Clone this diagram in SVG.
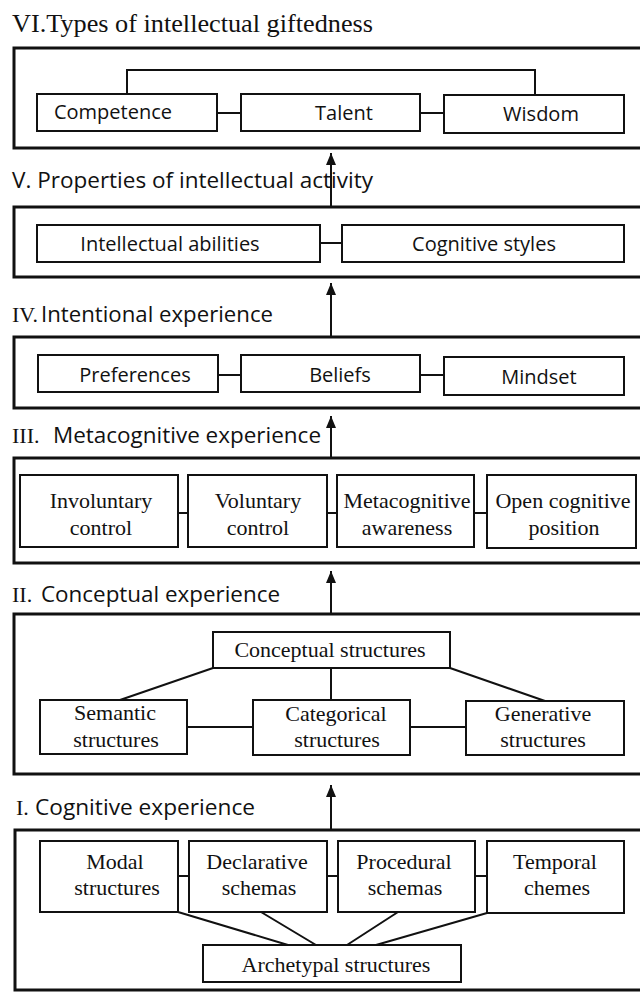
<svg xmlns="http://www.w3.org/2000/svg" width="640" height="992" viewBox="0 0 640 992">
<defs>
<style>
.outer{fill:none;stroke:#111;stroke-width:3}
.box{fill:#fff;stroke:#111;stroke-width:2}
.ln{fill:none;stroke:#111;stroke-width:2}
.ar{fill:none;stroke:#111;stroke-width:2;marker-end:url(#ah)}
.ser{font-family:"Liberation Serif","Times New Roman",serif;fill:#111}
.sans{font-family:"Open Sans","Noto Sans",sans-serif;fill:#111}
.t{font-size:22px}
.lbl{font-size:20px;text-anchor:middle}
.sl{font-size:22px;text-anchor:middle}
</style>
<marker id="ah" markerUnits="userSpaceOnUse" markerWidth="12" markerHeight="10" refX="12" refY="5" orient="auto" viewBox="0 0 12 10">
<path d="M0,0 L12,5 L0,10 Z" fill="#111"/>
</marker>
</defs>
<rect width="640" height="992" fill="#fff"/>

<g id="section-VI">
<text class="ser" x="12" y="32" font-size="26" textLength="361" lengthAdjust="spacingAndGlyphs">VI.Types of intellectual giftedness</text>
<rect class="outer" x="14" y="48" width="660" height="100"/>
</g>
<g id="competence"><rect class="box" x="37" y="94" width="180" height="37"/><text class="sans lbl" x="113" y="119">Competence</text></g>
<g id="talent"><rect class="box" x="241" y="94" width="179" height="37"/><text class="sans lbl" x="344" y="120">Talent</text></g>
<g id="wisdom"><rect class="box" x="444" y="95" width="180" height="38"/><text class="sans lbl" x="541" y="121">Wisdom</text></g>

<g id="section-V">
<text class="sans t" x="12" y="188" textLength="361" lengthAdjust="spacingAndGlyphs">V. Properties of intellectual activity</text>
<rect class="outer" x="14" y="207" width="660" height="70"/>
</g>
<g id="intellectual-abilities"><rect class="box" x="37" y="225" width="283" height="37"/><text class="sans lbl" x="170" y="251">Intellectual abilities</text></g>
<g id="cognitive-styles"><rect class="box" x="342" y="225" width="282" height="37"/><text class="sans lbl" x="484" y="251">Cognitive styles</text></g>

<g id="section-IV">
<text class="ser t" x="12" y="322">IV.</text>
<text class="sans t" x="41" y="322" textLength="232" lengthAdjust="spacingAndGlyphs">Intentional experience</text>
<rect class="outer" x="14" y="337" width="660" height="71"/>
</g>
<g id="preferences"><rect class="box" x="38" y="355" width="180" height="37"/><text class="sans lbl" x="135" y="382">Preferences</text></g>
<g id="beliefs"><rect class="box" x="241" y="355" width="179" height="37"/><text class="sans lbl" x="340" y="382">Beliefs</text></g>
<g id="mindset"><rect class="box" x="444" y="357" width="180" height="38"/><text class="sans lbl" x="539" y="384">Mindset</text></g>

<g id="section-III">
<text class="ser t" x="12" y="443">III.</text>
<text class="sans t" x="53" y="443" textLength="268" lengthAdjust="spacingAndGlyphs">Metacognitive experience</text>
<rect class="outer" x="14" y="458" width="660" height="105"/>
</g>
<g id="involuntary-control"><rect class="box" x="20" y="475" width="158" height="72"/><text class="ser sl" x="101" y="508">Involuntary</text><text class="ser sl" x="101" y="535">control</text></g>
<g id="voluntary-control"><rect class="box" x="188" y="475" width="139" height="72"/><text class="ser sl" x="258" y="508">Voluntary</text><text class="ser sl" x="258" y="535">control</text></g>
<g id="metacognitive-awareness"><rect class="box" x="337" y="475" width="137" height="72"/><text class="ser sl" x="407" y="508">Metacognitive</text><text class="ser sl" x="407" y="535">awareness</text></g>
<g id="open-cognitive-position"><rect class="box" x="487" y="475" width="149" height="73"/><text class="ser sl" x="563" y="508">Open cognitive</text><text class="ser sl" x="564" y="535">position</text></g>

<g id="section-II">
<text class="ser t" x="12" y="602">II.</text>
<text class="sans t" x="41" y="602" textLength="239" lengthAdjust="spacingAndGlyphs">Conceptual  experience</text>
<rect class="outer" x="14" y="614" width="660" height="160"/>
</g>
<g id="conceptual-structures"><rect class="box" x="213" y="632" width="237" height="36"/><text class="ser sl" x="330" y="657" font-size="23.5">Conceptual structures</text></g>
<g id="semantic-structures"><rect class="box" x="40" y="700" width="147" height="54"/><text class="ser sl" x="115" y="720">Semantic</text><text class="ser sl" x="116" y="747">structures</text></g>
<g id="categorical-structures"><rect class="box" x="253" y="700" width="157" height="55"/><text class="ser sl" x="336" y="721">Categorical</text><text class="ser sl" x="337" y="747">structures</text></g>
<g id="generative-structures"><rect class="box" x="466" y="701" width="158" height="54"/><text class="ser sl" x="543" y="721">Generative</text><text class="ser sl" x="543" y="747">structures</text></g>

<g id="section-I">
<text class="ser t" x="16" y="815">I.</text>
<text class="sans t" x="35" y="815" textLength="220" lengthAdjust="spacingAndGlyphs">Cognitive experience</text>
<rect class="outer" x="15" y="830" width="660" height="160"/>
</g>
<g id="modal-structures"><rect class="box" x="40" y="841" width="138" height="71"/><text class="ser sl" x="115" y="869">Modal</text><text class="ser sl" x="117" y="895">structures</text></g>
<g id="declarative-schemas"><rect class="box" x="189" y="841" width="138" height="71"/><text class="ser sl" x="257" y="869">Declarative</text><text class="ser sl" x="259" y="895">schemas</text></g>
<g id="procedural-schemas"><rect class="box" x="338" y="841" width="137" height="71"/><text class="ser sl" x="404" y="869">Procedural</text><text class="ser sl" x="405" y="895">schemas</text></g>
<g id="temporal-chemes"><rect class="box" x="487" y="841" width="137" height="72"/><text class="ser sl" x="555" y="869">Temporal</text><text class="ser sl" x="557" y="895">chemes</text></g>
<g id="archetypal-structures"><rect class="box" x="203" y="945" width="258" height="37"/><text class="ser sl" x="336" y="972">Archetypal structures</text></g>

<g id="connectors">
<path class="ln" d="M127 94 V70 H535 V95"/>
<path class="ln" d="M217 113 H241 M420 113 H444"/>
<path class="ln" d="M320 243 H342"/>
<path class="ln" d="M218 375 H241 M420 375 H444"/>
<path class="ln" d="M178 513 H188 M327 513 H337 M474 513 H487"/>
<path class="ln" d="M213 668 L120 700 M331 668 V700 M450 668 L545 701"/>
<path class="ln" d="M187 727 H253 M410 727 H466"/>
<path class="ln" d="M178 876 H189 M327 876 H338 M475 876 H487"/>
<path class="ln" d="M178 912 L288 945 M261 912 L316 945 M398 912 L347 945 M487 913 L376 945"/>
<line class="ar" x1="331" y1="207" x2="331" y2="153"/>
<line class="ar" x1="331" y1="337" x2="331" y2="283"/>
<line class="ar" x1="331" y1="458" x2="331" y2="416"/>
<line class="ar" x1="331" y1="614" x2="331" y2="571"/>
<line class="ar" x1="331" y1="830" x2="331" y2="785"/>
</g>
</svg>
